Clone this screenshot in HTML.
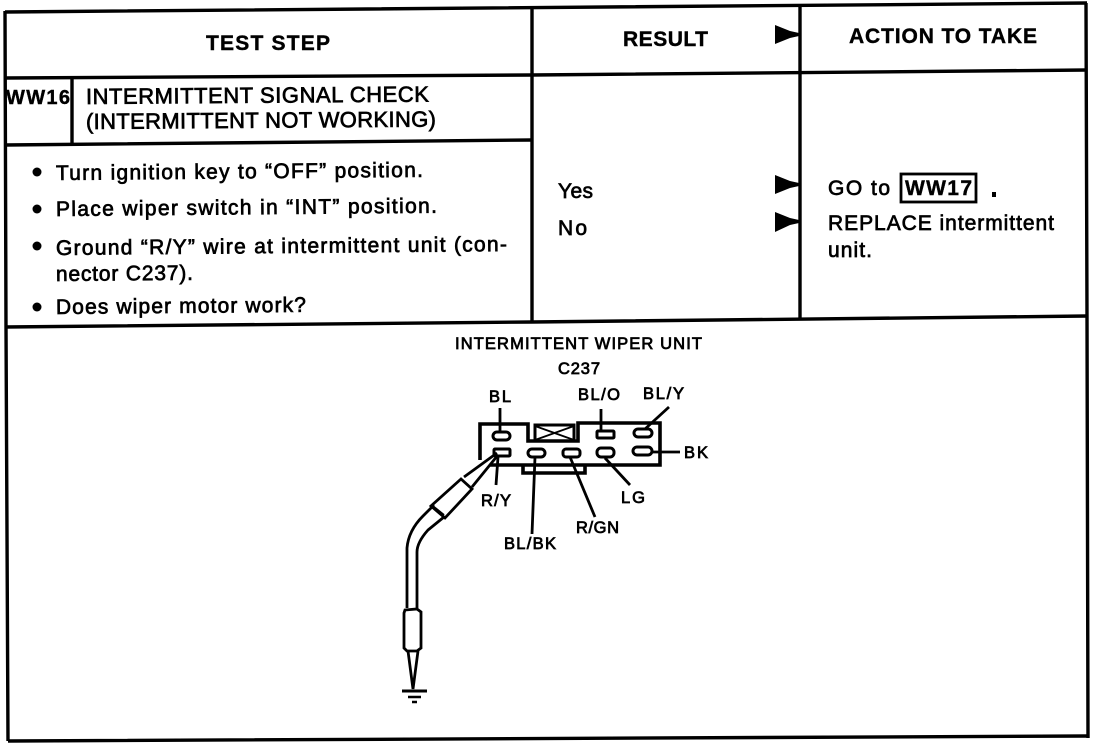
<!DOCTYPE html>
<html><head><meta charset="utf-8">
<style>
html,body{margin:0;padding:0;background:#fff;width:1120px;height:744px;overflow:hidden}
svg{display:block}
text{font-family:"Liberation Sans",sans-serif;fill:#000;stroke:#000}
.b{font-weight:bold;font-size:21px;stroke-width:.4}
.t{font-size:22px;stroke-width:.7}
.s{font-size:21px;stroke-width:.7}
.d{font-size:16.5px;stroke-width:.75}
</style></head><body>
<svg width="1120" height="744" viewBox="0 0 1120 744" xmlns="http://www.w3.org/2000/svg">
<g fill="none" stroke="#000" stroke-width="3.4">
<path d="M5 12L1087 3M5 78L532 75L1087 70M5 145L532 140M5 327L532 322L1087 316M8 741L1088 736"/>
<path d="M5 11L6 327L8 741M1086 3L1087 316L1088 738M532 8V322M800 5V320M72 78V144"/>
</g>
<g fill="#000">
<path d="M775 25L790 31L799 33V36L790 38L775 44Z"/>
<path d="M775 175L790 181L799 183V186L790 188L775 194Z"/>
<path d="M775 212L790 218L799 220V223L790 225L775 232Z"/>
</g>
<text class="b" x="206" y="50" textLength="124">TEST STEP</text>
<text class="b" x="623" y="46" textLength="85">RESULT</text>
<text class="b" x="849" y="43" textLength="188">ACTION TO TAKE</text>
<text x="6" y="104" font-size="20" font-weight="bold" textLength="64" style="stroke-width:.4">WW16</text>
<text class="t" x="86" y="104" textLength="343" transform="rotate(-.4 86 104)">INTERMITTENT SIGNAL CHECK</text>
<text class="t" x="86" y="129" textLength="350" transform="rotate(-.4 86 129)">(INTERMITTENT NOT WORKING)</text>
<g fill="#000"><circle cx="37" cy="172" r="4.5"/><circle cx="37" cy="209" r="4.5"/><circle cx="37" cy="246" r="4.5"/><circle cx="37" cy="307" r="4.5"/></g>
<text class="s" x="56" y="180" textLength="367" transform="rotate(-.5 56 180)">Turn ignition key to “OFF” position.</text>
<text class="s" x="56" y="216" textLength="381" transform="rotate(-.5 56 216)">Place wiper switch in “INT” position.</text>
<text class="s" x="56" y="255" textLength="451" transform="rotate(-.5 56 255)">Ground “R/Y” wire at intermittent unit (con-</text>
<text class="s" x="56" y="281" textLength="137" transform="rotate(-.5 56 281)">nector C237).</text>
<text class="s" x="56" y="314" textLength="250" transform="rotate(-.5 56 314)">Does wiper motor work?</text>
<text class="s" x="558" y="198" textLength="35">Yes</text>
<text class="s" x="558" y="235" textLength="29">No</text>
<text class="s" x="828" y="195" textLength="62">GO to</text>
<rect x="901" y="174" width="75" height="28" fill="none" stroke="#000" stroke-width="2.8"/>
<text x="905" y="195" font-size="21" font-weight="bold" textLength="67" style="stroke-width:.4">WW17</text>
<rect x="992" y="192" width="4" height="5" fill="#000"/>
<text class="s" x="828" y="230" textLength="226">REPLACE intermittent</text>
<text class="s" x="828" y="257" textLength="44">unit.</text>
<text class="d" x="455" y="349" textLength="247">INTERMITTENT WIPER UNIT</text>
<text class="d" x="558" y="374" textLength="42">C237</text>
<text class="d" x="489" y="402" textLength="22">BL</text>
<text class="d" x="578" y="400" textLength="42">BL/O</text>
<text class="d" x="643" y="399" textLength="41">BL/Y</text>
<text class="d" x="684" y="458" textLength="24">BK</text>
<text class="d" x="481" y="506" textLength="30">R/Y</text>
<text class="d" x="621" y="503" textLength="24">LG</text>
<text class="d" x="576" y="533" textLength="43">R/GN</text>
<text class="d" x="504" y="549" textLength="52">BL/BK</text>
<g fill="none" stroke="#000" stroke-width="3.6">
<path d="M480 460V424H528V441H578V423H660V465H490"/>
<path d="M535 441V425H574V441" stroke-width="3"/>
<path d="M535 426L574 440M574 426L535 440" stroke-width="1.8"/>
<path d="M523 466V473H585V466"/>
</g>
<g fill="none" stroke="#000" stroke-width="3">
<rect x="493" y="432" width="17" height="8" rx="4"/>
<rect x="597" y="431" width="17" height="7" rx="1"/>
<rect x="634" y="429" width="18" height="8" rx="4"/>
<rect x="494" y="449" width="16" height="7" rx="1"/>
<rect x="528" y="449" width="17" height="8" rx="4"/>
<rect x="563" y="449" width="17" height="8" rx="3"/>
<rect x="597" y="448" width="17" height="9" rx="4"/>
<rect x="633" y="447" width="19" height="8" rx="4"/>
</g>
<g fill="none" stroke="#000" stroke-width="2.8">
<path d="M500 408V432M601 409V431M669 407L645 429M652 452H680"/>
<path d="M498 457L496 485M535 457L532 534M570 457L595 517M605 458L630 485"/>
<path d="M497 453L464 477M498 455L472 487"/>
<path d="M461 479L431 506L445 518L472 489Z" fill="#fff"/>
<path d="M434 507L444 515" stroke-width="2"/>
<path d="M434 505L423 516C413 526 408 536 407 548V608M444 517L428 530C420 539 417 546 417 552V608"/>
<path d="M405 610L417 609L421 612V648L417 651H407L404 648V613Z"/>
<path d="M408 651L413 689L418 651"/>
<path d="M402 691H427" stroke-width="3"/>
<path d="M408 697H421M412 702H417" stroke-width="2.5"/>
</g>
</svg>
</body></html>
